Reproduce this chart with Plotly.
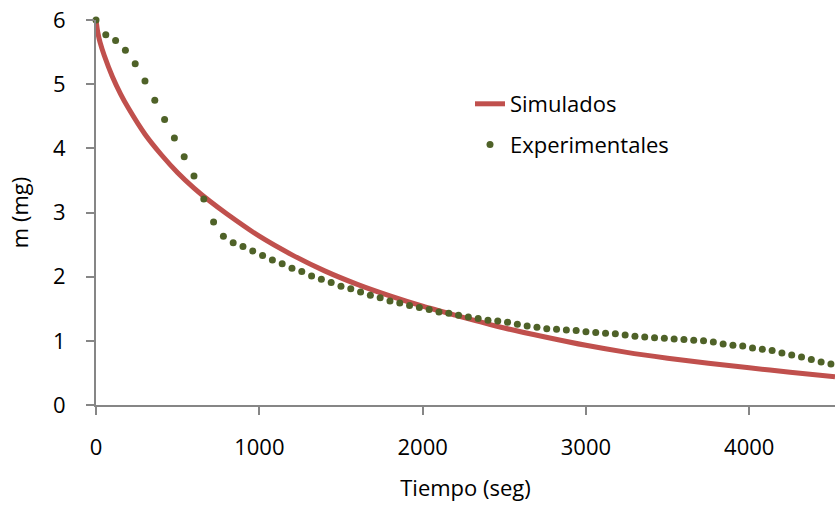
import plotly.graph_objects as go

# Experimental data (seconds, mg)
t_exp = [0, 60, 120, 180, 240, 300, 360, 420, 480, 540, 600, 660, 720, 780, 840, 900,
         960, 1020, 1080, 1140, 1200, 1260, 1320, 1380, 1440, 1500, 1560, 1620, 1680,
         1740, 1800, 1860, 1920, 1980, 2040, 2100, 2160, 2220, 2280, 2340, 2400, 2460,
         2520, 2580, 2640, 2700, 2760, 2820, 2880, 2940, 3000, 3060, 3120, 3180, 3240,
         3300, 3360, 3420, 3480, 3540, 3600, 3660, 3720, 3780, 3840, 3900, 3960, 4020,
         4080, 4140, 4200, 4260, 4320, 4380, 4440, 4500]
m_exp = [6.00, 5.77, 5.68, 5.53, 5.32, 5.05, 4.75, 4.45, 4.16, 3.87, 3.57, 3.21, 2.85,
         2.63, 2.53, 2.47, 2.40, 2.33, 2.26, 2.20, 2.13, 2.08, 2.01, 1.96, 1.91, 1.85,
         1.81, 1.76, 1.71, 1.67, 1.62, 1.59, 1.55, 1.52, 1.49, 1.45, 1.43, 1.40, 1.37,
         1.35, 1.32, 1.31, 1.29, 1.26, 1.23, 1.21, 1.19, 1.18, 1.17, 1.16, 1.14, 1.13,
         1.12, 1.11, 1.09, 1.07, 1.06, 1.05, 1.04, 1.03, 1.02, 1.01, 1.00, 0.98, 0.95,
         0.93, 0.92, 0.89, 0.87, 0.85, 0.81, 0.78, 0.75, 0.71, 0.67, 0.64]

# Simulated curve (seconds, mg)
t_sim = [0, 10, 25, 50, 100, 150, 200, 300, 400, 500, 600, 700, 800, 1000, 1200, 1400,
         1600, 1800, 2000, 2200, 2500, 2750, 3000, 3250, 3500, 3750, 4000, 4250, 4525]
m_sim = [6.00, 5.82, 5.65, 5.45, 5.12, 4.85, 4.62, 4.22, 3.90, 3.62, 3.38, 3.17, 2.98,
         2.63, 2.34, 2.09, 1.88, 1.70, 1.54, 1.40, 1.20, 1.06, 0.93, 0.82, 0.73, 0.65,
         0.58, 0.51, 0.44]

x_ticks = [0, 1000, 2000, 3000, 4000]
y_ticks = [0, 1, 2, 3, 4, 5, 6]

FONT = "Open Sans"
AXIS = "#868686"

fig = go.Figure()
fig.add_trace(go.Scatter(
    x=t_sim, y=m_sim, mode="lines", name="Simulados",
    line=dict(color="#C0504D", width=5, shape="spline", smoothing=0.8),
    legendgroup="sim",
))
fig.add_trace(go.Scatter(
    x=t_exp, y=m_exp, mode="markers", name="Experimentales",
    marker=dict(color="#4F6228", size=7),
    cliponaxis=False,
    legendgroup="exp",
))

fig.update_layout(
    width=835, height=512,
    margin=dict(l=96, r=0, t=20, b=107),
    paper_bgcolor="white", plot_bgcolor="white",
    font=dict(family=FONT, size=22, color="black"),
    legend=dict(x=(470 - 96) / 739, y=(405 - 83) / 385, xanchor="left", yanchor="top",
                traceorder="grouped", tracegroupgap=9,
                font=dict(size=22), bgcolor="rgba(0,0,0,0)"),
)

fig.update_xaxes(
    range=[0, 4525], tickvals=x_ticks, ticktext=[str(v) for v in x_ticks],
    showgrid=False, zeroline=False, showline=True, linecolor=AXIS, linewidth=2,
    ticks="outside", ticklen=8, tickcolor=AXIS, tickwidth=1.5,
    ticklabelstandoff=14,
    title=dict(text="Tiempo (seg)", standoff=20, font=dict(size=22)),
)
fig.update_yaxes(
    range=[0, 6], tickvals=y_ticks, ticktext=[str(v) for v in y_ticks],
    showgrid=False, zeroline=False, showline=True, linecolor=AXIS, linewidth=2,
    ticks="outside", ticklen=8, tickcolor=AXIS, tickwidth=1.5,
    ticklabelstandoff=16,
    title=dict(text="m (mg)", standoff=18, font=dict(size=22)),
)

fig.write_html("out.html")
